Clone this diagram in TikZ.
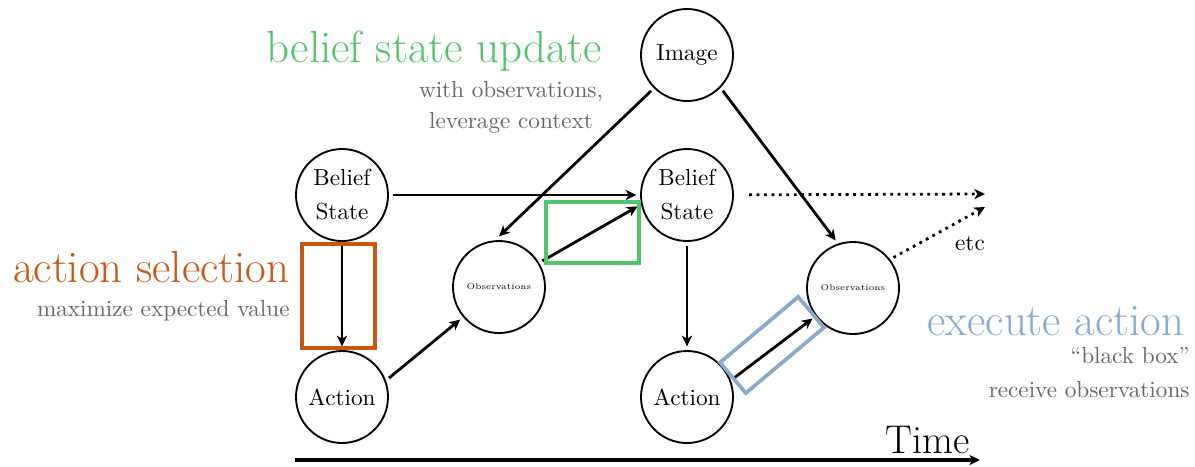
\documentclass[tikz,border=0pt]{standalone}
\usepackage{tikz}
\usetikzlibrary{arrows.meta}
\definecolor{updgreen}{HTML}{50C468}
\definecolor{selorange}{HTML}{CC5511}
\definecolor{exeblue}{HTML}{88AACC}

\begin{document}
\begin{tikzpicture}[x=0.01515cm, y=-0.01515cm,
    >={Stealth[length=4.6pt, width=4.4pt, inset=1.3pt]},
    state/.style={circle, draw, thick, minimum size=1.394cm, inner sep=0pt, outer sep=2pt, align=center},
    obsstate/.style={state, font=\fontsize{3.6pt}{4pt}\selectfont},
    link/.style={->, line width=1.2pt},
    etcline/.style={->, line width=1.2pt, dotted},
    note/.style={inner sep=0pt, text=black!60},
    title/.style={inner sep=0pt, font=\fontsize{19.4pt}{23pt}\selectfont}]
    \useasboundingbox (0,0) rectangle (1195,466);
            \node[state] (belief1) at (342,195) {Belief\\[2.7pt]State};
            \node[state] (action1) at (342,397) {Action};
            \node[obsstate] (obs1) at (499,287) {Observations};
            \node[state] (image) at (687,55) {Image};
            \node[state] (belief2) at (687,195) {Belief\\[2.7pt]State};
            \node[state] (action2) at (687,397) {Action};
            \node[obsstate] (obs2) at (853,288) {Observations};
            \coordinate (etc1) at (985,194);
            \coordinate (etc2) at (985,207);
            \coordinate (t0) at (295,460);
            \coordinate (t1) at (980,460);

            \draw[link] (belief1) -- (belief2);
            \draw[link] (belief1) -- (action1);
            \draw[link] (action1.22) -- (obs1.220);
            \draw[link] (image.225) -- (obs1.north);
            \draw[link] (obs1.31) -- (belief2.193);
            \draw[link] (image.315) -- (obs2.110);
            \draw[link] (belief2) -- (action2);
            \draw[link] (action2.22) -- (obs2.217);
            \draw[etcline, shorten <=5pt] (belief2) -- (etc1);
            \draw[etcline] (obs2.37) -- (etc2);
            \node (etclabel) at (970,243) {etc};
            \draw[->, line width=1.4pt] (t0) -- (t1);
            \node[inner sep=0pt, font=\LARGE, anchor=base east] (time) at (970,453) {Time};

            \draw[selorange, ultra thick] (302,244) rectangle (375,348);
            \draw[updgreen, ultra thick] (546,202) rectangle (639,263);
            \draw[exeblue, ultra thick, rotate around={40:(772,345)}] (721,325) rectangle (823,365);

            \node[title, text=updgreen, anchor=base east] (updtitle) at (602,62) {belief state update};
            \node[note, anchor=base] (updnote1) at (511,97) {with observations,};
            \node[note, anchor=base] (updnote2) at (511,128) {leverage context};
            \node[title, text=selorange, anchor=base east] (seltitle) at (290,282) {action selection};
            \node[note, anchor=base east] (selnote) at (290,316) {maximize expected value};
            \node[title, text=exeblue, anchor=base east] (exetitle) at (1185,335) {execute action};
            \node[note, anchor=base east] (exenote1) at (1190,363) {``black box''};
            \node[note, anchor=base east] (exenote2) at (1190,397) {receive observations};
    \end{tikzpicture}
\end{document}
